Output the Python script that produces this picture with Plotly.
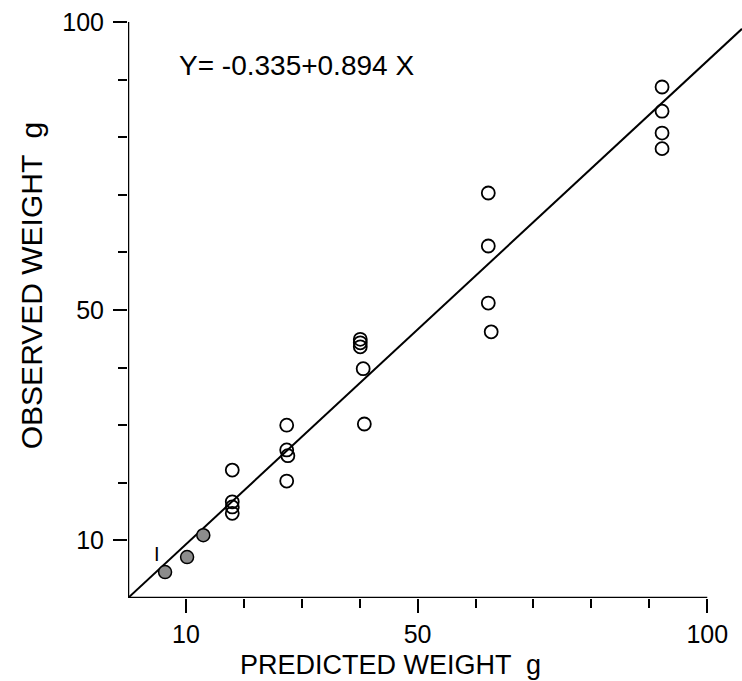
import plotly.graph_objects as go

# Data
filled_x = [6.4, 10.2, 13.0]
filled_y = [4.5, 7.1, 10.9]

open_x = [18.0, 18.0, 18.0, 18.0,
          27.4, 27.4, 27.6, 27.4,
          40.1, 40.1, 40.1, 40.6, 40.8,
          62.2, 62.2, 62.2, 62.7,
          92.2, 92.2, 92.2, 92.2]
open_y = [22.2, 16.7, 15.8, 14.7,
          30.0, 25.7, 24.7, 20.3,
          44.9, 44.3, 43.6, 39.8, 30.2,
          70.3, 61.1, 51.2, 46.2,
          88.7, 84.5, 80.7, 78.0]

line_x = [0, 106.0]
line_y = [0, 98.8]

major_ticks = [10, 50, 100]
major_text = ["10", "50", "100"]
minor_ticks = [20, 30, 40, 60, 70, 80, 90]

equation = "Y= -0.335+0.894 X"
x_title = "PREDICTED WEIGHT  g"
y_title = "OBSERVED WEIGHT  g"

FONT = "Liberation Sans"

fig = go.Figure()
fig.add_trace(go.Scatter(x=line_x, y=line_y, mode="lines",
                         line=dict(color="black", width=2), showlegend=False,
                         hoverinfo="skip"))
fig.add_trace(go.Scatter(x=open_x, y=open_y, mode="markers",
                         marker=dict(symbol="circle-open", size=13, color="black",
                                     line=dict(width=1.8, color="black")),
                         showlegend=False))
fig.add_trace(go.Scatter(x=filled_x, y=filled_y, mode="markers",
                         marker=dict(symbol="circle", size=13, color="#8c8c8c",
                                     line=dict(width=1.5, color="black")),
                         showlegend=False, cliponaxis=False))

axis_common = dict(
    tickmode="array", tickvals=major_ticks, ticktext=major_text,
    ticks="outside", ticklen=14, tickwidth=2, tickcolor="black",
    minor=dict(tickmode="array", tickvals=minor_ticks, ticks="outside",
               ticklen=9, tickwidth=2, tickcolor="black", showgrid=False),
    showgrid=False, zeroline=False, showline=False,
    tickfont=dict(family=FONT, size=25, color="black"),
)

fig.update_layout(
    width=742, height=681,
    margin=dict(l=128, r=0, t=0, b=83),
    paper_bgcolor="white", plot_bgcolor="white",
    xaxis=dict(range=[0, 106.0], ticklabelstandoff=0, **axis_common),
    yaxis=dict(range=[0, 103.8], ticklabelstandoff=4, **axis_common),
    shapes=[
        dict(type="line", xref="x", yref="y", x0=0, y0=0, x1=100, y1=0,
             line=dict(color="black", width=2.5)),
        dict(type="line", xref="x", yref="y", x0=0, y0=0, x1=0, y1=100,
             line=dict(color="black", width=2.5)),
    ],
    annotations=[
        dict(x=8.4, y=92.5, xref="x", yref="y", text=equation, showarrow=False,
             xanchor="left", yanchor="middle",
             font=dict(family=FONT, size=28, color="black")),
        dict(x=5.0, y=7.6, xref="x", yref="y", text="I", showarrow=False,
             font=dict(family=FONT, size=20, color="black")),
        dict(x=0.427, y=-0.112, xref="paper", yref="paper", text=x_title,
             showarrow=False, xanchor="center", yanchor="middle",
             font=dict(family=FONT, size=27, color="black")),
        dict(x=-0.158, y=0.523, xref="paper", yref="paper", text=y_title,
             showarrow=False, textangle=-90, xanchor="center", yanchor="middle",
             font=dict(family=FONT, size=30, color="black")),
    ],
)

fig.write_html("out.html")
